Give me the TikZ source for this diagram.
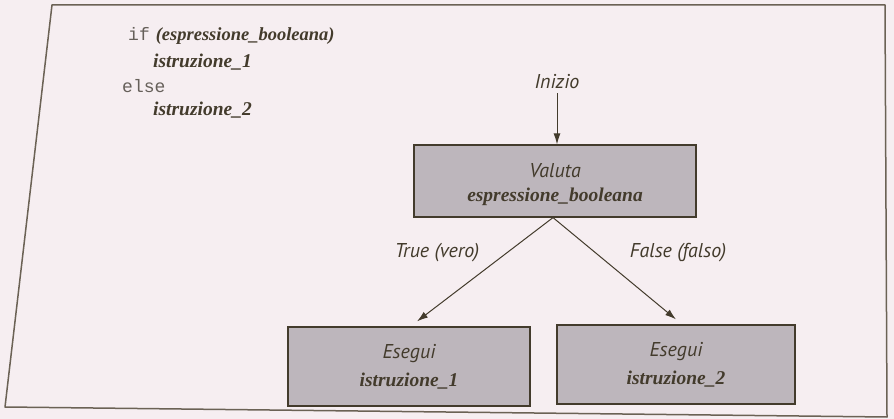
\documentclass[tikz,border=0pt]{standalone}
\usepackage{fontspec}
\usetikzlibrary{arrows.meta,calc}
\setmainfont{Liberation Serif}
\newfontfamily\labelsans{PT Sans}
\newfontfamily\codemono{Liberation Mono}
\definecolor{paper}{HTML}{F6EEF1}
\definecolor{ink}{HTML}{433B2C}
\definecolor{framecol}{HTML}{6B6255}
\definecolor{boxfill}{HTML}{BDB6BC}
\definecolor{kwcol}{HTML}{66605A}
\newcommand{\sansit}[1]{{\labelsans\itshape\fontsize{20}{24}\selectfont #1}}
\newcommand{\exprit}[1]{{\bfseries\itshape\fontsize{19.5}{24}\selectfont #1}}
\newcommand{\exprsm}[1]{{\bfseries\itshape\fontsize{18.5}{22}\selectfont #1}}
\newcommand{\kw}[1]{{\codemono\fontsize{18}{20}\selectfont\color{kwcol}#1}}
\tikzset{
  flowbox/.style={draw=ink, line width=1.2pt, fill=boxfill, align=center,
    inner sep=0pt, text=ink},
  flowarrow/.style={draw=ink, line width=1pt, -{Latex[length=11pt,width=7pt]}},
  codeline/.style={anchor=west, inner sep=0pt, text=ink},
  edgelabel/.style={inner sep=0pt, text=ink},
}
\begin{document}
\begin{tikzpicture}[x=1pt,y=-1pt]
  % page and frame
  \fill[paper] (0,0) rectangle (894,419);
  \useasboundingbox (0,0) rectangle (894,419);
  \draw[framecol, line width=1.5pt, line join=round] (52,5) -- (885,5) -- (887,417) -- (5,407) -- cycle;

  % code fragment
  \node[codeline] (cif)   at (128,36)  {\kw{if}\hspace{6pt}\exprsm{(espressione\_booleana)}};
  \node[codeline] (cist1) at (153,62)  {\exprit{istruzione\_1}};
  \node[codeline] (celse) at (122,86)  {\kw{else}};
  \node[codeline] (cist2) at (153,110) {\exprit{istruzione\_2}};

  % flowchart
  \node[edgelabel] (inizio) at (557,82) {\sansit{Inizio}};
  \node[flowbox, minimum width=282pt, minimum height=72pt,
        font=\fontsize{19.5}{24}\selectfont] (valuta) at (555,181)
    {\rule{0pt}{22pt}\sansit{Valuta}\\\exprit{espressione\_booleana}};
  \node[flowbox, minimum width=242pt, minimum height=79pt,
        font=\fontsize{19.5}{28}\selectfont] (esegui1) at (409,366.5)
    {\sansit{Esegui}\\\exprit{istruzione\_1}};
  \node[flowbox, minimum width=238pt, minimum height=79pt,
        font=\fontsize{19.5}{28}\selectfont] (esegui2) at (676,364.5)
    {\sansit{Esegui}\\\exprit{istruzione\_2}};

  \coordinate (apex) at ($(valuta.south)+(-2,0)$);
  \coordinate (tip1) at ($(esegui1.north)+(8,-5)$);
  \coordinate (tip2) at ($(esegui2.north)+(0,-5)$);

  \draw[flowarrow] ($(inizio.south)+(0,4)$) -- (inizio.south |- valuta.north);
  \draw[flowarrow] (apex) -- (tip1);
  \draw[flowarrow] (apex) -- (tip2);

  \node[edgelabel] (truelab)  at (437,253) {\sansit{True (vero)}};
  \node[edgelabel] (falselab) at (678,253) {\sansit{False (falso)}};
\end{tikzpicture}
\end{document}
